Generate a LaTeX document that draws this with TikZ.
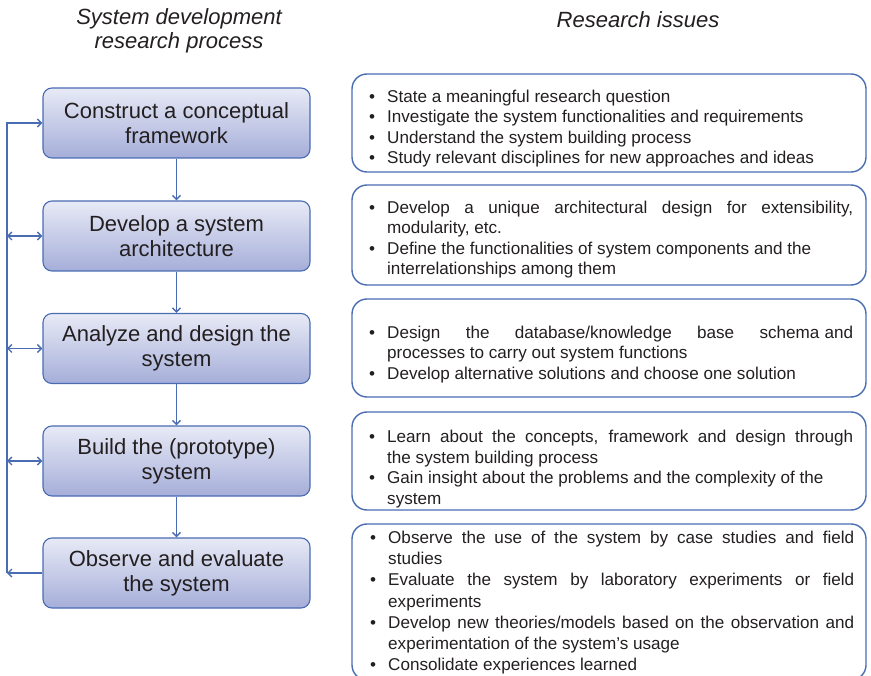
\documentclass[tikz,border=0pt]{standalone}
\usepackage{fontspec}
\setmainfont{Liberation Sans}
\usetikzlibrary{arrows.meta}

\definecolor{edge}{HTML}{4A6CB3}
\definecolor{ink}{HTML}{231F20}
\definecolor{shadetop}{HTML}{E8EAF6}
\definecolor{shadebot}{HTML}{A5AED9}

% bullet hung in the left margin of a line
\newcommand{\bl}{\leavevmode\llap{\textbullet\hspace{12pt}}}
% a line stretched to the full text width
\newcommand{\jl}[1]{\makebox[466pt][s]{#1}}

\begin{document}
\begin{tikzpicture}[x=1pt,y=-1pt,
  stepbox/.style={draw=edge, line width=1.1pt, rounded corners=9pt,
    top color=shadetop, bottom color=shadebot,
    minimum width=267pt, minimum height=70pt, inner sep=0pt,
    align=center, text=ink, font=\fontsize{22}{25}\selectfont},
  issuebox/.style={draw=edge, line width=1.4pt, rounded corners=15pt,
    minimum width=514pt, inner sep=0pt},
  issuetext/.style={anchor=base west, inner sep=0pt, text=ink,
    font=\fontsize{17.1}{20.5}\selectfont},
  heading/.style={align=center, text=ink, inner sep=0pt,
    font=\fontsize{22}{24}\selectfont\itshape},
  flow/.style={draw=edge, line width=1.4pt,
    -{Straight Barb[length=4pt,width=8pt]}},
  both/.style={draw=edge, line width=1.4pt,
    {Straight Barb[length=4pt,width=8pt]}-{Straight Barb[length=4pt,width=8pt]}}]

\useasboundingbox (0,0) rectangle (871,676);
\clip (0,0) rectangle (871,676);

% column headings
\node[heading, anchor=north] (hd1) at (179,8) {System development\\research process};
\node[heading, anchor=base] (hd2) at (638,28) {Research issues};

% process steps
\node[stepbox] (b1) at (176.5,123) {Construct a conceptual\\framework};
\node[stepbox] (b2) at (176.5,236) {Develop a system\\architecture};
\node[stepbox] (b3) at (176.5,348.5) {Analyze and design the\\system};
\node[stepbox] (b4) at (176.5,461) {Build the (prototype)\\system};
\node[stepbox] (b5) at (176.5,573) {Observe and evaluate\\the system};

\draw[flow] (b1) -- (b2);
\draw[flow] (b2) -- (b3);
\draw[flow] (b3) -- (b4);
\draw[flow] (b4) -- (b5);

% feedback rail
\coordinate (f1) at (7,123);
\coordinate (f2) at (7,236);
\coordinate (f3) at (7,348.5);
\coordinate (f4) at (7,461);
\coordinate (f5) at (7,573);
\draw[flow] (b5.west) -- (f5);
\draw[flow] (f5) -- (f1) -- (b1.west);
\draw[both] (f2) -- (b2.west);
\draw[both] (f3) -- (b3.west);
\draw[both] (f4) -- (b4.west);

% research issue panels
\node[issuebox, minimum height=98pt] (r1) at (609,123) {};
\node[issuebox, minimum height=100pt] (r2) at (609,235) {};
\node[issuebox, minimum height=98pt] (r3) at (609,348) {};
\node[issuebox, minimum height=98pt] (r4) at (609,461) {};
\node[issuebox, minimum height=156pt] (r5) at (609,602) {};

\node[issuetext] (t1) at (387,102.5) {\parbox[t]{466pt}{%
\bl State a meaningful research question\\
\bl Investigate the system functionalities and requirements\\
\bl Understand the system building process\\
\bl Study relevant disciplines for new approaches and ideas}};

\node[issuetext] (t2) at (387,213.5) {\parbox[t]{466pt}{%
\bl\jl{Develop a unique architectural design for extensibility,}\\
modularity, etc.\\
\bl Define the functionalities of system components and the\\
interrelationships among them}};

\node[issuetext] (t3) at (387,338.5) {\parbox[t]{466pt}{%
\bl\jl{Design the database/knowledge base schema\hspace{0.3em}and}\\
processes to carry out system functions\\
\bl Develop alternative solutions and choose one solution}};

\node[issuetext] (t4) at (387,443) {\parbox[t]{466pt}{%
\bl\jl{Learn about the concepts, framework and design through}\\
the system building process\\
\bl Gain insight about the problems and the complexity of the\\
system}};

\node[issuetext, font=\fontsize{17.1}{21.2}\selectfont] (t5) at (388,543.5) {\parbox[t]{466pt}{%
\bl\jl{Observe the use of the system by case studies and field}\\
studies\\
\bl\jl{Evaluate the system by laboratory experiments or field}\\
experiments\\
\bl\jl{Develop new theories/models based on the observation and}\\
experimentation of the system’s usage\\
\bl Consolidate experiences learned}};

\end{tikzpicture}
\end{document}
